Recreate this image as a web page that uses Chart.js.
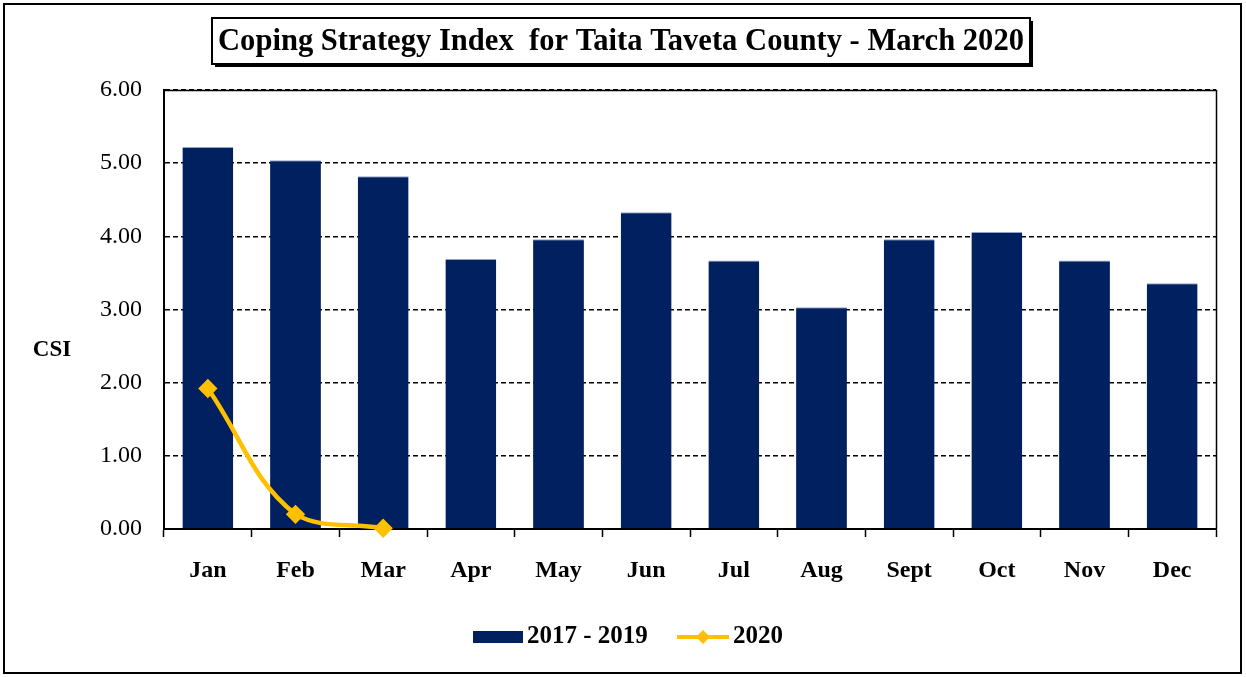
<!DOCTYPE html>
<html>
<head>
<meta charset="utf-8">
<script src="https://cdn.jsdelivr.net/npm/chart.js@4"></script>
<style>
  html, body { margin: 0; padding: 0; background: #fff; }
  #wrap { width: 1246px; height: 677px; }
</style>
</head>
<body>
<div id="wrap"><canvas id="csi" width="1246" height="677"></canvas></div>
<script>
// Monthly Coping Strategy Index values
const months = ['Jan', 'Feb', 'Mar', 'Apr', 'May', 'Jun', 'Jul', 'Aug', 'Sept', 'Oct', 'Nov', 'Dec'];
const avg2017to2019 = [5.22, 5.04, 4.82, 3.69, 3.96, 4.33, 3.67, 3.03, 3.96, 4.06, 3.67, 3.36];
const csi2020 = [1.92, 0.20, 0.01];
const yTicks = [0, 1, 2, 3, 4, 5, 6];
const seriesNames = ['2017 - 2019', '2020'];
const chartTitle = 'Coping Strategy Index  for Taita Taveta County - March 2020';
const yAxisName = 'CSI';

const NAVY = '#002060';
const GOLD = '#FFC000';
const SERIF = '"Liberation Serif", "Times New Roman", serif';

// Frame, title box, axis name and legend drawn on the canvas
const decorations = {
  id: 'decorations',
  beforeDraw(chart) {
    const ctx = chart.ctx;
    ctx.save();
    ctx.fillStyle = '#fff';
    ctx.fillRect(0, 0, chart.width, chart.height);
    ctx.restore();
  },
  afterDraw(chart) {
    const ctx = chart.ctx;
    const a = chart.chartArea;
    ctx.save();
    // outer frame
    ctx.strokeStyle = '#000';
    ctx.lineWidth = 2;
    ctx.strokeRect(4, 4, 1237, 669);

    // plot area top and right edges
    ctx.lineWidth = 1.5;
    ctx.beginPath();
    ctx.moveTo(a.left, a.top + 0.5);
    ctx.lineTo(a.right + 0.5, a.top + 0.5);
    ctx.lineTo(a.right + 0.5, a.bottom);
    ctx.stroke();

    // title box with a small shadow
    const bx = 212, by = 18, bw = 818, bh = 46;
    ctx.fillStyle = '#000';
    ctx.fillRect(bx + 3, by + 3, bw, bh);
    ctx.fillStyle = '#fff';
    ctx.fillRect(bx, by, bw, bh);
    ctx.lineWidth = 2;
    ctx.strokeStyle = '#000';
    ctx.strokeRect(bx, by, bw, bh);

    ctx.fillStyle = '#000';
    ctx.font = 'bold 31px ' + SERIF;
    ctx.textBaseline = 'middle';
    ctx.textAlign = 'center';
    const tw = ctx.measureText(chartTitle).width;
    const targetW = 806;
    ctx.save();
    ctx.translate(bx + bw / 2, by + bh / 2 + 1);
    ctx.scale(targetW / tw, 1);
    ctx.fillText(chartTitle, 0, 0);
    ctx.restore();

    // y axis name, horizontal
    ctx.font = 'bold 23px ' + SERIF;
    ctx.textAlign = 'center';
    ctx.fillText(yAxisName, 52, 350);

    // legend
    const ly = 637;
    ctx.font = 'bold 25px ' + SERIF;
    ctx.textAlign = 'left';
    ctx.fillStyle = NAVY;
    ctx.fillRect(473, ly - 6, 50, 12);
    ctx.fillStyle = '#000';
    ctx.fillText(seriesNames[0], 527, ly);

    ctx.strokeStyle = GOLD;
    ctx.lineWidth = 4;
    ctx.beginPath();
    ctx.moveTo(677, ly);
    ctx.lineTo(729, ly);
    ctx.stroke();
    ctx.fillStyle = GOLD;
    ctx.beginPath();
    ctx.moveTo(703, ly - 7);
    ctx.lineTo(710, ly);
    ctx.lineTo(703, ly + 7);
    ctx.lineTo(696, ly);
    ctx.closePath();
    ctx.fill();
    ctx.fillStyle = '#000';
    ctx.fillText(seriesNames[1], 733, ly);
    ctx.restore();
  }
};

new Chart(document.getElementById('csi'), {
  type: 'bar',
  data: {
    labels: months,
    datasets: [
      {
        type: 'line',
        label: seriesNames[1],
        data: csi2020,
        borderColor: GOLD,
        backgroundColor: GOLD,
        borderWidth: 4.5,
        tension: 0.4,
        pointStyle: 'rectRot',
        pointRadius: 6.5,
        pointHoverRadius: 6.5,
        pointBackgroundColor: GOLD,
        pointBorderColor: GOLD,
        clip: false,
        order: 0
      },
      {
        label: seriesNames[0],
        data: avg2017to2019,
        backgroundColor: NAVY,
        borderColor: '#8fa3c8',
        borderWidth: { top: 1, left: 0, right: 0, bottom: 0 },
        categoryPercentage: 0.58,
        barPercentage: 1.0,
        order: 1
      }
    ]
  },
  options: {
    responsive: false,
    animation: false,
    devicePixelRatio: 1,
    layout: { padding: { top: 90, right: 30, left: 0, bottom: 0 } },
    plugins: {
      legend: { display: false },
      title: { display: false },
      tooltip: { enabled: false }
    },
    scales: {
      x: {
        offset: true,
        grid: {
          display: true,
          offset: true,
          drawOnChartArea: false,
          drawTicks: true,
          tickLength: 8,
          color: '#000',
          tickColor: '#000',
          tickWidth: 1.5
        },
        border: { display: true, color: '#000', width: 2 },
        ticks: {
          color: '#000',
          padding: 19,
          font: { family: SERIF, size: 24, weight: 'bold' }
        },
        afterFit(scale) { scale.height = 677 - 529; }
      },
      y: {
        min: 0,
        max: 6,
        afterBuildTicks(scale) { scale.ticks = yTicks.map(v => ({ value: v })); },
        grid: {
          color: '#000',
          lineWidth: 1.4,
          drawTicks: false
        },
        border: { display: true, color: '#000', width: 2, dash: [5, 3] },
        ticks: {
          color: '#000',
          padding: 22,
          font: { family: SERIF, size: 24 },
          callback: v => Number(v).toFixed(2)
        },
        afterFit(scale) { scale.width = 164; }
      }
    }
  },
  plugins: [decorations]
});
</script>
</body>
</html>
